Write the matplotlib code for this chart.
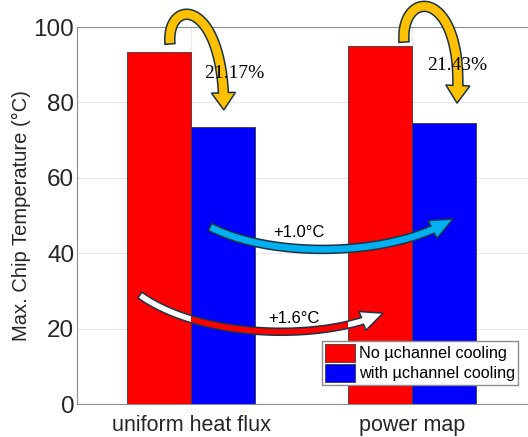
import numpy as np
import matplotlib
matplotlib.use("Agg")
import matplotlib.pyplot as plt
from matplotlib.patches import Polygon, Rectangle
from matplotlib.transforms import IdentityTransform

categories = ["uniform heat flux", "power map"]
no_cooling = [93.3, 94.9]
with_cooling = [73.55, 74.56]
series_labels = ["No \u00b5channel cooling", "with \u00b5channel cooling"]
reduction_labels = ["21.17%", "21.43%"]
delta_labels = ["+1.0\u00b0C", "+1.6\u00b0C"]

plt.rcParams["font.family"] = ["Liberation Sans", "DejaVu Sans"]

fig = plt.figure(figsize=(5.28, 4.37), dpi=100)
ax = fig.add_axes([0.1458, 0.0755, 0.8542, 0.8627])

x = np.arange(1, len(categories) + 1)
w = 0.29
bars_red = ax.bar(x - w / 2, no_cooling, w, color="#ff0000", edgecolor="#3a3a3a",
                  lw=0.6, label=series_labels[0], zorder=2)
bars_blue = ax.bar(x + w / 2, with_cooling, w, color="#0000ff", edgecolor="#3a3a3a",
                   lw=0.6, label=series_labels[1], zorder=2)

ax.set_xlim(0.4842, 2.525)
ax.set_ylim(0, 100)
ax.set_xticks(x)
ax.set_xticklabels(categories)
ax.set_yticks(np.arange(0, 101, 20))
ax.tick_params(axis="x", labelsize=15.5, colors="#262626", length=0, pad=8)
ax.tick_params(axis="y", labelsize=17.5, colors="#262626", length=0, pad=2)
ax.grid(True, color="#e8e8e8", lw=0.8, zorder=0)
ax.set_axisbelow(True)
for side in ["left", "bottom", "top"]:
    ax.spines[side].set_color("#8c8c8c")
ax.spines["right"].set_visible(False)
ax.set_ylabel("Max. Chip Temperature (\u00b0C)", fontsize=14.5, color="#262626", labelpad=2)


def bezier(ctrl, n=300):
    t = np.linspace(0, 1, n)[:, None]
    p0, p1, p2, p3 = ctrl
    return ((1 - t) ** 3 * p0 + 3 * (1 - t) ** 2 * t * p1
            + 3 * (1 - t) * t ** 2 * p2 + t ** 3 * p3)


def fat_arrow(ax, ctrl, shaft_w, head_w, head_l, fc, ec="#1c3446", lw=1.1, z=5):
    # curved block arrow built in pixel space along a cubic bezier
    pts = ax.transData.transform(np.asarray(ctrl, float))
    c = bezier(pts)
    seg = np.hypot(*np.diff(c, axis=0).T)
    s = np.concatenate([[0], np.cumsum(seg)])
    k = np.searchsorted(s, s[-1] - head_l)
    shaft = c[:k + 1]
    tan = np.gradient(shaft, axis=0)
    tan /= np.hypot(tan[:, 0], tan[:, 1])[:, None]
    nrm = np.column_stack([-tan[:, 1], tan[:, 0]])
    base, tip = shaft[-1], c[-1]
    d = (tip - base) / np.hypot(*(tip - base))
    n = np.array([-d[1], d[0]])
    left = shaft + nrm * shaft_w / 2
    right = shaft - nrm * shaft_w / 2
    poly = np.vstack([left, base + n * head_w / 2, tip, base - n * head_w / 2, right[::-1]])
    body = Polygon(poly, closed=True, transform=IdentityTransform(), fc=fc, ec="none",
                   zorder=z, clip_on=False)
    ax.add_patch(body)
    edge = Polygon(poly, closed=True, transform=IdentityTransform(), fc="none", ec=ec,
                   lw=lw, zorder=z + 0.2, clip_on=False, joinstyle="miter")
    ax.add_patch(edge)
    return body


# reduction arrows from red to blue bar
fat_arrow(ax, [(0.905, 95.5), (0.887, 108.0), (1.149, 108.0), (1.149, 78.0)],
          10, 24, 18, "#ffc000")
fat_arrow(ax, [(1.964, 96.0), (1.946, 110.6), (2.244, 110.6), (2.204, 79.8)],
          10, 24, 18, "#ffc000")

# increase arrows between the two cases
fat_arrow(ax, [(1.086, 47.0), (1.357, 38.7), (1.900, 38.7), (2.186, 49.1)],
          8, 20, 24, "#00b0f0")
red_arrow = fat_arrow(ax, [(0.769, 28.9), (1.041, 17.5), (1.584, 16.4), (1.869, 24.1)],
                      7, 20, 22, "#ff0000")
for b in bars_red:
    r = Rectangle((b.get_x(), 0), b.get_width(), 100, fc="white", ec="none", zorder=5.1)
    ax.add_patch(r)
    r.set_clip_path(red_arrow)

ax.text(1.197, 87.8, reduction_labels[0], fontsize=14, family="Liberation Serif",
        ha="center", va="center", zorder=8)
ax.text(2.206, 89.7, reduction_labels[1], fontsize=14, family="Liberation Serif",
        ha="center", va="center", zorder=8)
ax.text(1.489, 45.4, delta_labels[0], fontsize=12, ha="center", va="center", zorder=8)
ax.text(1.466, 22.8, delta_labels[1], fontsize=12, ha="center", va="center", zorder=8)

leg = ax.legend(loc="lower right", bbox_to_anchor=(0.978, 0.05), fontsize=11.7,
                fancybox=False, framealpha=1, edgecolor="#8c8c8c", borderpad=0.2,
                labelspacing=0.15, handlelength=1.8, handleheight=1.3,
                handletextpad=0.25, borderaxespad=0)
leg.set_zorder(10)

fig.savefig("out.png", dpi=100)
